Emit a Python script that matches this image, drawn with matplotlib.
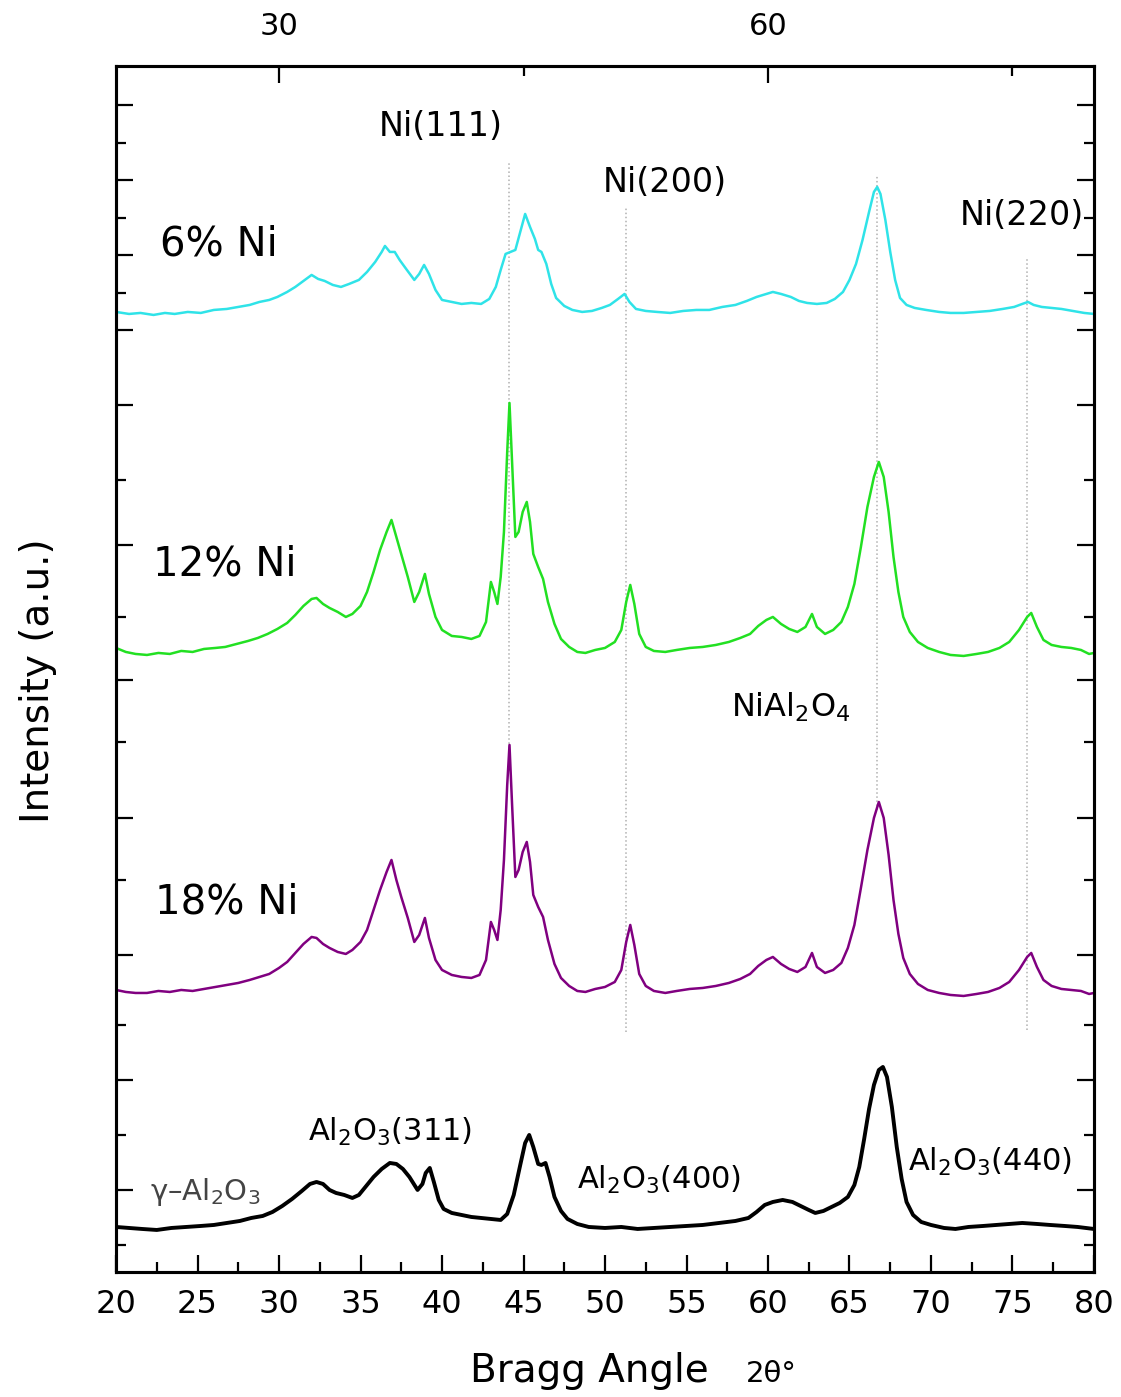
import matplotlib
matplotlib.use("Agg")
import matplotlib.pyplot as plt
from matplotlib.ticker import FixedLocator, NullFormatter

# --- data (2theta in degrees, intensity in a.u.) ---
tt_6 = [20.0, 20.8, 21.5, 22.3, 23.0, 23.6, 24.4, 25.2, 26.0, 26.8, 27.5, 28.2, 28.8, 29.4,
        29.9, 30.5, 31.0, 31.5, 32.0, 32.4, 32.8, 33.3, 33.8, 34.3, 34.9, 35.4, 35.9, 36.3,
        36.5, 36.8, 37.1, 37.4, 37.8, 38.3, 38.6, 38.9, 39.2, 39.6, 40.0, 40.6, 41.2, 41.8,
        42.4, 42.9, 43.3, 43.6, 43.9, 44.2, 44.5, 44.8, 45.1, 45.4, 45.7, 45.9, 46.1, 46.4,
        46.7, 47.0, 47.5, 48.0, 48.6, 49.2, 49.8, 50.3, 50.8, 51.2, 51.5, 51.9, 52.5, 53.2,
        54.0, 54.8, 55.6, 56.4, 57.2, 58.0, 58.7, 59.3, 59.9, 60.3, 60.8, 61.4, 61.9, 62.4,
        63.0, 63.6, 64.1, 64.6, 65.0, 65.4, 65.8, 66.2, 66.5, 66.7, 66.9, 67.2, 67.5, 67.8,
        68.1, 68.5, 69.0, 69.7, 70.5, 71.2, 72.0, 72.8, 73.6, 74.4, 75.1, 75.6, 75.95, 76.3,
        76.8, 77.4, 78.0, 78.7, 79.4, 80.0]
int_6 = [20, 18, 19, 17, 19, 18, 20, 19, 22, 23, 25, 27, 30, 32,
         35, 40, 45, 51, 57, 53, 51, 47, 45, 48, 52, 60, 70, 80,
         86, 80, 80, 72, 63, 52, 58, 67, 58, 42, 32, 30, 28, 29,
         28, 33, 45, 62, 78, 80, 82, 100, 118, 105, 93, 82, 80, 68,
         48, 34, 26, 22, 20, 21, 24, 27, 33, 38, 30, 23, 21, 20,
         19, 21, 22, 22, 25, 27, 31, 35, 38, 40, 38, 35, 31, 29,
         28, 29, 33, 40, 52, 68, 92, 120, 140, 145, 138, 112, 80, 52,
         34, 27, 24, 22, 20, 19, 19, 20, 21, 23, 25, 28, 30, 27,
         25, 24, 23, 21, 19, 18]

tt_12 = [20.0, 20.6, 21.2, 21.9, 22.6, 23.3, 24.0, 24.7, 25.4, 26.1, 26.7, 27.4, 28.1, 28.7,
         29.3, 29.9, 30.5, 31.0, 31.5, 32.0, 32.3, 32.7, 33.1, 33.6, 34.1, 34.5, 35.0, 35.4,
         35.8, 36.2, 36.6, 36.9, 37.2, 37.5, 37.9, 38.3, 38.6, 38.95, 39.2, 39.6, 40.0, 40.6,
         41.2, 41.8, 42.3, 42.7, 43.0, 43.2, 43.4, 43.6, 43.8, 44.0, 44.14, 44.3, 44.5, 44.7,
         44.95, 45.2, 45.4, 45.6, 45.9, 46.2, 46.5, 46.9, 47.3, 47.8, 48.3, 48.8, 49.4, 50.0,
         50.6, 51.0, 51.3, 51.55, 51.8, 52.1, 52.5, 53.0, 53.7, 54.4, 55.2, 56.0, 56.8, 57.6,
         58.3, 58.9, 59.4, 59.9, 60.3, 60.8, 61.3, 61.8, 62.3, 62.7, 63.0, 63.5, 64.0, 64.5,
         64.9, 65.3, 65.7, 66.1, 66.5, 66.8, 67.1, 67.4, 67.7, 68.0, 68.3, 68.7, 69.2, 69.8,
         70.5, 71.2, 72.0, 72.8, 73.5, 74.2, 74.8, 75.4, 75.9, 76.15, 76.5, 76.9, 77.4, 78.0,
         78.6, 79.2, 79.7, 80.0]
int_12 = [24, 20, 18, 17, 19, 18, 21, 20, 23, 24, 25, 28, 31, 34,
          38, 43, 49, 57, 66, 73, 74, 68, 64, 60, 55, 58, 66, 80,
          100, 122, 140, 152, 135, 118, 95, 70, 80, 98, 78, 55, 42, 36,
          35, 33, 36, 50, 90, 80, 68, 95, 140, 220, 269, 210, 135, 140,
          160, 170, 150, 118, 105, 93, 70, 48, 33, 25, 20, 19, 22, 24,
          30, 42, 70, 87, 68, 38, 25, 21, 20, 22, 24, 25, 27, 30,
          34, 38, 46, 52, 55, 48, 43, 40, 45, 58, 45, 38, 42, 50,
          65, 88, 125, 165, 195, 210, 195, 160, 115, 80, 55, 40, 30, 24,
          20, 17, 16, 18, 20, 24, 30, 42, 55, 59, 45, 32, 27, 25,
          24, 22, 18, 19]

tt_18 = [20.0, 20.6, 21.2, 21.9, 22.6, 23.3, 24.0, 24.7, 25.4, 26.1, 26.8, 27.5, 28.2, 28.8,
         29.4, 30.0, 30.5, 31.0, 31.5, 32.0, 32.3, 32.7, 33.1, 33.6, 34.1, 34.5, 35.0, 35.4,
         35.8, 36.2, 36.6, 36.9, 37.2, 37.5, 37.9, 38.3, 38.6, 38.95, 39.2, 39.6, 40.0, 40.6,
         41.2, 41.8, 42.3, 42.7, 43.0, 43.2, 43.4, 43.6, 43.8, 44.0, 44.14, 44.3, 44.5, 44.7,
         44.95, 45.2, 45.4, 45.6, 45.9, 46.2, 46.5, 46.9, 47.3, 47.8, 48.3, 48.8, 49.4, 50.0,
         50.6, 51.0, 51.3, 51.55, 51.8, 52.1, 52.5, 53.0, 53.7, 54.4, 55.2, 56.0, 56.8, 57.6,
         58.3, 58.9, 59.4, 59.9, 60.3, 60.8, 61.3, 61.8, 62.3, 62.7, 63.0, 63.5, 64.0, 64.5,
         64.9, 65.3, 65.7, 66.1, 66.5, 66.8, 67.1, 67.4, 67.7, 68.0, 68.3, 68.7, 69.2, 69.8,
         70.5, 71.2, 72.0, 72.8, 73.5, 74.2, 74.8, 75.4, 75.9, 76.15, 76.5, 76.9, 77.4, 78.0,
         78.6, 79.2, 79.7, 80.0]
int_18 = [20, 18, 17, 17, 19, 18, 20, 19, 21, 23, 25, 27, 30, 33,
          36, 42, 48, 57, 66, 73, 72, 66, 62, 58, 56, 60, 68, 80,
          100, 120, 138, 150, 130, 113, 92, 68, 75, 92, 72, 50, 40, 35,
          33, 32, 35, 50, 88, 80, 70, 100, 150, 225, 265, 205, 133, 140,
          158, 168, 148, 115, 103, 93, 70, 46, 32, 24, 19, 18, 21, 23,
          28, 40, 68, 85, 65, 36, 24, 19, 17, 19, 21, 22, 24, 27,
          31, 36, 44, 50, 53, 46, 41, 38, 43, 57, 43, 37, 40, 47,
          62, 85, 122, 160, 192, 208, 192, 155, 110, 76, 52, 36, 26, 20,
          17, 15, 14, 16, 18, 22, 28, 40, 53, 57, 43, 30, 24, 21,
          20, 19, 16, 17]

tt_al = [20.0, 20.8, 21.6, 22.5, 23.4, 24.3, 25.2, 26.0, 26.8, 27.6, 28.3, 29.0, 29.6, 30.2,
         30.8, 31.4, 31.9, 32.3, 32.7, 33.1, 33.5, 34.0, 34.5, 34.9, 35.3, 35.8, 36.3, 36.8,
         37.2, 37.6, 38.0, 38.5, 38.8, 39.0, 39.25, 39.5, 39.8, 40.1, 40.6, 41.2, 41.8, 42.4,
         43.0, 43.6, 44.0, 44.4, 44.8, 45.1, 45.35, 45.6, 45.9, 46.1, 46.35, 46.6, 46.9, 47.3,
         47.7, 48.3, 49.0, 50.0, 51.0, 52.0, 53.0, 54.0, 55.0, 56.0, 57.0, 58.0, 58.8, 59.3,
         59.8, 60.3, 60.9, 61.5, 62.0, 62.5, 62.9, 63.4, 63.9, 64.4, 64.9, 65.3, 65.6, 65.9,
         66.2, 66.5, 66.8, 67.05, 67.3, 67.6, 67.9, 68.2, 68.5, 68.9, 69.4, 70.0, 70.8, 71.5,
         72.3, 73.2, 74.0, 74.8, 75.6, 76.5, 77.3, 78.2, 79.0, 80.0]
int_al = [20, 19, 18, 17, 19, 20, 21, 22, 24, 26, 29, 31, 35, 41,
          48, 56, 63, 65, 63, 57, 54, 52, 49, 52, 60, 70, 78, 84,
          83, 78, 70, 57, 63, 74, 79, 65, 47, 38, 34, 32, 30, 29,
          28, 27, 33, 52, 82, 104, 112, 100, 83, 82, 84, 70, 50, 36,
          28, 23, 20, 19, 20, 18, 19, 20, 21, 22, 24, 26, 29, 35,
          42, 45, 47, 45, 41, 37, 34, 36, 40, 44, 50, 62, 80, 108,
          138, 162, 177, 180, 170, 140, 100, 68, 45, 32, 25, 22, 19, 18,
          20, 21, 22, 23, 24, 23, 22, 21, 20, 18]

patterns = ["6% Ni", "12% Ni", "18% Ni", "Al2O3"]
offsets = [940, 600, 262, 25]
colors = ["#2fe3e8", "#22e022", "#800080", "black"]

ref_tt = [44.14, 51.27, 66.68, 75.9]
ref_top = [1109, 1065, 1097, 1015]
ref_bottom = [512, 240, 462, 242]

fig = plt.figure(figsize=(11.21, 13.97), dpi=100)
ax = fig.add_axes([0.1035, 0.0895, 0.8724, 0.8633])

for x, y0, y1 in zip(ref_tt, ref_bottom, ref_top):
    ax.plot([x, x], [y0, y1], color="#b0b0b0", lw=1.1, ls=":", zorder=1)

series = [(tt_6, int_6), (tt_12, int_12), (tt_18, int_18), (tt_al, int_al)]
for (tt, inten), off, c in zip(series, offsets, colors):
    lw = 2.8 if c == "black" else 1.8
    ax.plot(tt, [v + off for v in inten], color=c, lw=lw, zorder=3)

ax.set_xlim(20, 80)
ax.set_ylim(0, 1206)

# labels on curves
ax.text(26.3, 1027, "6% Ni", fontsize=29, ha="center", va="center")
ax.text(26.7, 707, "12% Ni", fontsize=29, ha="center", va="center")
ax.text(26.8, 369, "18% Ni", fontsize=29, ha="center", va="center")
ax.text(39.9, 1145, "Ni(111)", fontsize=24, ha="center", va="center")
ax.text(53.7, 1089, "Ni(200)", fontsize=24, ha="center", va="center")
ax.text(75.6, 1056, "Ni(220)", fontsize=24, ha="center", va="center")
ax.text(61.4, 565, r"NiAl$_2$O$_4$", fontsize=23, ha="center", va="center")
ax.text(25.5, 80, r"γ–Al$_2$O$_3$", fontsize=21, ha="center", va="center",
        color="#444444")
ax.text(36.8, 140, r"Al$_2$O$_3$(311)", fontsize=22, ha="center", va="center")
ax.text(53.3, 92, r"Al$_2$O$_3$(400)", fontsize=22, ha="center", va="center")
ax.text(73.6, 110, r"Al$_2$O$_3$(440)", fontsize=22, ha="center", va="center")

# ticks
ax.xaxis.set_major_locator(FixedLocator(range(20, 81, 5)))
ax.xaxis.set_minor_locator(FixedLocator([x + 2.5 for x in range(20, 80, 5)]))
ax.yaxis.set_major_locator(FixedLocator([1272 - p for p in
                                         [105, 180, 255, 330, 405, 545, 680, 818, 955, 1080, 1190]]))
ax.yaxis.set_minor_locator(FixedLocator([1272 - p for p in
                                         [143, 218, 293, 480, 617, 742, 880, 1025, 1135, 1245]]))
ax.yaxis.set_major_formatter(NullFormatter())
ax.tick_params(which="both", direction="in", width=1.6, labelsize=23, right=True, pad=12)
ax.tick_params(which="major", length=12)
ax.tick_params(which="minor", length=7)

top = ax.twiny()
top.set_xlim(20, 80)
top.xaxis.set_major_locator(FixedLocator([30, 60]))
top.xaxis.set_minor_locator(FixedLocator([45, 75]))
top.tick_params(which="both", direction="in", width=1.6, labelsize=22, pad=18)
top.tick_params(which="major", length=12)
top.tick_params(which="minor", length=7)

for a in (ax, top):
    for s in a.spines.values():
        s.set_linewidth(2.2)

fig.text(0.526, 0.011, "Bragg Angle", fontsize=28, ha="center", va="baseline")
fig.text(0.688, 0.011, "2θ°", fontsize=21, ha="center", va="baseline")
fig.text(0.034, 0.513, "Intensity (a.u.)", fontsize=28, rotation=90,
         ha="center", va="center")

fig.savefig("out.png", dpi=100)
